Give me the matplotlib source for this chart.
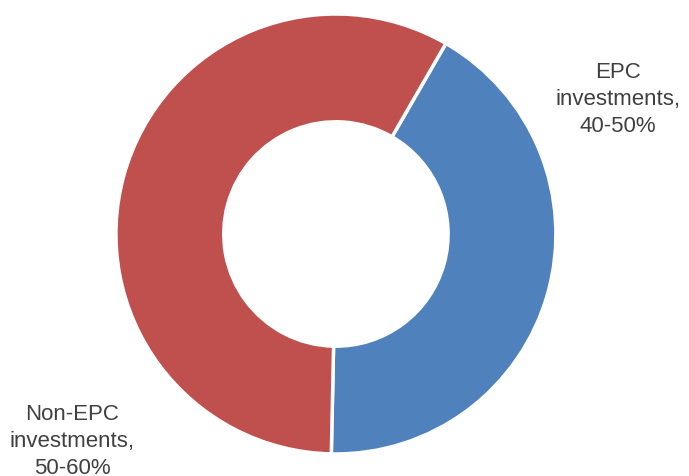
import matplotlib.pyplot as plt

labels = ['EPC\ninvestments,\n40-50%', 'Non-EPC\ninvestments,\n50-60%']
values = [42, 58]
colors = ['#4F81BD', '#C0504D']

plt.rcParams['font.family'] = ['Liberation Sans', 'DejaVu Sans']

fig = plt.figure(figsize=(6.89, 4.77), dpi=100)
ax = fig.add_axes([0, 0, 1, 1])

# 甜甜圈圖 (從右上方開始順時針)
ax.pie(values, colors=colors, startangle=60, counterclock=False,
       wedgeprops=dict(width=0.49, edgecolor='white', linewidth=2.5))

ax.set_xlim(-1.527, 1.605)
ax.set_ylim(-1.1, 1.068)
ax.set_aspect('equal')
ax.axis('off')

# 標籤
ax.text(1.282, 0.615, labels[0], ha='center', va='center', fontsize=16,
        color='#404040', linespacing=1.38)
ax.text(-1.2, -0.94, labels[1], ha='center', va='center', fontsize=16,
        color='#404040', linespacing=1.38)

fig.savefig('out.png', dpi=100)
